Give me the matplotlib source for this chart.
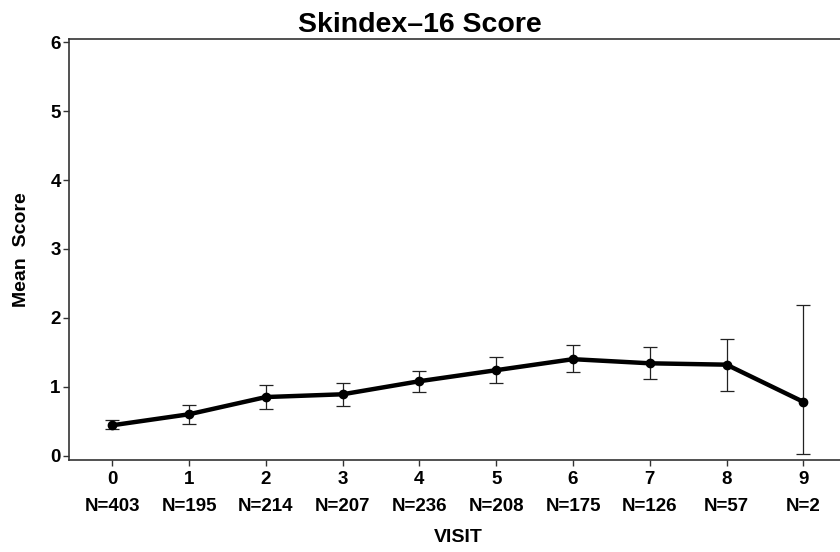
import matplotlib
matplotlib.use("Agg")
import matplotlib.pyplot as plt

# visit number, mean score and the ends of the error bars
visits = [0, 1, 2, 3, 4, 5, 6, 7, 8, 9]
n_counts = [403, 195, 214, 207, 236, 208, 175, 126, 57, 2]
mean_score = [0.44, 0.60, 0.85, 0.89, 1.08, 1.24, 1.40, 1.34, 1.32, 0.78]
upper = [0.51, 0.73, 1.03, 1.06, 1.23, 1.43, 1.60, 1.58, 1.69, 2.19]
lower = [0.38, 0.46, 0.68, 0.72, 0.92, 1.06, 1.21, 1.11, 0.94, 0.02]

plt.rcParams['font.family'] = ['Liberation Sans', 'DejaVu Sans']

fig = plt.figure(figsize=(8.4, 5.52), dpi=100)
ax = fig.add_axes([0.0821, 0.1667, 0.92, 0.7627])

yerr = [[m - lo for m, lo in zip(mean_score, lower)],
        [hi - m for m, hi in zip(mean_score, upper)]]
ax.errorbar(visits, mean_score, yerr=yerr, fmt='none', ecolor='#222222',
            elinewidth=0.9, capsize=5, capthick=0.9, zorder=2)
ax.plot(visits, mean_score, color='black', linewidth=3.2, marker='o',
        markersize=6, zorder=3)

ax.set_xlim(-0.564, 9.5)
ax.set_ylim(-0.064, 6.05)
ax.set_yticks(range(0, 7))
ax.set_xticks(visits)
ax.set_xticklabels(["%d\nN=%d" % (v, n) for v, n in zip(visits, n_counts)],
                   linespacing=1.75)

for side in ['left', 'bottom', 'top', 'right']:
    ax.spines[side].set_color('#333333')
    ax.spines[side].set_linewidth(1.2)

ax.tick_params(axis='both', length=4, width=1, color='#333333',
               labelsize=13.5)
ax.tick_params(axis='x', pad=4)
ax.tick_params(axis='y', pad=2)
for lbl in ax.get_xticklabels() + ax.get_yticklabels():
    lbl.set_fontweight('bold')

fig.text(0.5, 1 - 32 / 552, "Skindex\u201316 Score", ha='center',
         va='baseline', fontsize=20.5, fontweight='bold')
fig.text(22 / 840, 1 - 250 / 552, "Mean  Score", rotation=90,
         ha='center', va='center', fontsize=14, fontweight='bold')
fig.text(458 / 840, 1 - 537 / 552, "VISIT", ha='center',
         va='center', fontsize=14, fontweight='bold')

fig.savefig("out.png", dpi=100)
